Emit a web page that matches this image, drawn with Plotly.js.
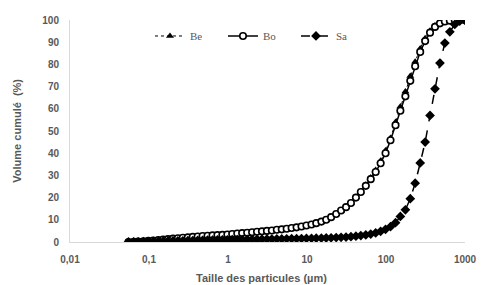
<!DOCTYPE html>
<html>
<head>
<meta charset="utf-8">
<script src="https://cdn.plot.ly/plotly-3.0.1.min.js"></script>
<style>html,body{margin:0;padding:0;background:#fff;}#chart{width:483px;height:285px;}</style>
</head>
<body>
<div id="chart"></div>
<script>
// Particle sizes (µm)
const sizes = [0.055, 0.064, 0.073, 0.085, 0.098, 0.113, 0.131, 0.151, 0.174, 0.201,
  0.232, 0.268, 0.310, 0.358, 0.413, 0.477, 0.551, 0.637, 0.735, 0.849,
  0.981, 1.13, 1.31, 1.51, 1.75, 2.02, 2.33, 2.69, 3.11, 3.59,
  4.15, 4.79, 5.53, 6.39, 7.38, 8.52, 9.84, 11.4, 13.1, 15.2,
  17.5, 20.2, 23.4, 27.0, 31.2, 36.0, 41.6, 48.0, 55.5, 64.1,
  74.0, 85.5, 98.7, 114, 132, 152, 176, 203, 234, 271,
  313, 361, 417, 482, 556, 643, 742, 857, 990];

// Cumulative volume (%)
const be = [0, 0.1, 0.2, 0.3, 0.5, 0.6, 0.8, 1.0, 1.2, 1.4,
  1.6, 1.8, 2.0, 2.2, 2.4, 2.6, 2.7, 2.9, 3.0, 3.1,
  3.3, 3.5, 3.7, 3.9, 4.1, 4.3, 4.5, 4.7, 4.9, 5.1,
  5.4, 5.6, 5.9, 6.2, 6.5, 6.9, 7.3, 7.8, 8.4, 9.1,
  9.9, 11.1, 12.5, 14.1, 15.7, 17.7, 20.2, 22.8, 25.8, 29.0,
  32.4, 36.6, 41.2, 46.8, 54.0, 61.0, 67.8, 74.8, 81.2, 87.2,
  91.8, 95.2, 97.5, 98.9, 99.6, 99.9, 100, 100, 100];

const bo = [0, 0.1, 0.2, 0.35, 0.5, 0.7, 0.9, 1.1, 1.3, 1.5,
  1.7, 1.9, 2.1, 2.3, 2.5, 2.7, 2.8, 3.0, 3.1, 3.2,
  3.4, 3.6, 3.8, 4.0, 4.2, 4.4, 4.6, 4.8, 5.0, 5.2,
  5.5, 5.7, 6.0, 6.3, 6.6, 7.0, 7.4, 7.9, 8.5, 9.2,
  10.0, 11.2, 12.6, 14.2, 15.7, 17.6, 20.0, 22.5, 25.3, 28.3,
  31.5, 35.5, 40.0, 45.8, 52.6, 59.1, 65.6, 72.6, 79.2, 85.6,
  90.5, 94.3, 96.9, 98.5, 99.3, 99.7, 99.9, 100, 100];

const sa = [0, 0.05, 0.1, 0.15, 0.2, 0.25, 0.3, 0.35, 0.4, 0.45,
  0.5, 0.55, 0.6, 0.65, 0.7, 0.75, 0.8, 0.85, 0.9, 0.95,
  1.0, 1.05, 1.1, 1.1, 1.15, 1.2, 1.2, 1.25, 1.3, 1.3,
  1.35, 1.4, 1.45, 1.5, 1.5, 1.55, 1.6, 1.65, 1.7, 1.75,
  1.8, 1.9, 2.0, 2.1, 2.2, 2.4, 2.6, 2.9, 3.2, 3.6,
  4.1, 4.8, 5.7, 6.9, 8.7, 11.5, 14.5, 19.5, 26.5, 35.6,
  45, 57, 69, 80.6, 89.6, 94.7, 98, 99.5, 100];

const xTickVals = [0.01, 0.1, 1, 10, 100, 1000];
const xTickText = ['0,01', '0,1', '1', '10', '100', '1000'];
const yTickVals = [0, 10, 20, 30, 40, 50, 60, 70, 80, 90, 100];

const traces = [
  {x: sizes, y: be, name: 'Be', type: 'scatter', mode: 'lines+markers',
   line: {color: '#000', width: 1, dash: 'dot'},
   marker: {symbol: 'triangle-up', size: 7, color: '#000'}},
  {x: sizes, y: bo, name: 'Bo', type: 'scatter', mode: 'lines+markers',
   line: {color: '#000', width: 1.5},
   marker: {symbol: 'circle', size: 6.5, color: '#fff', line: {color: '#000', width: 1.6}}},
  {x: sizes, y: sa, name: 'Sa', type: 'scatter', mode: 'lines+markers',
   line: {color: '#000', width: 1.5, dash: 'dash'},
   marker: {symbol: 'diamond', size: 7.5, color: '#000'}}
];

const tickFont = {family: 'Liberation Sans', size: 10, color: '#595959', weight: 'bold'};

const layout = {
  width: 483, height: 285,
  margin: {l: 70, r: 18, t: 20, b: 43},
  paper_bgcolor: '#fff', plot_bgcolor: '#fff',
  showlegend: true,
  legend: {orientation: 'h', x: 0.2025, y: 0.928, xanchor: 'left', yanchor: 'middle',
    font: {family: 'Liberation Serif', size: 11, color: '#595959'},
    bgcolor: 'rgba(0,0,0,0)', entrywidth: 28, entrywidthmode: 'pixels'},
  xaxis: {type: 'log', range: [-2, 3], tickvals: xTickVals, ticktext: xTickText,
    showgrid: false, zeroline: false, showline: true, linecolor: '#d9d9d9', linewidth: 1,
    ticks: '', ticklabelstandoff: 8, tickfont: tickFont,
    title: {text: ''}},
  yaxis: {range: [0, 100], tickvals: yTickVals, showgrid: false, zeroline: false,
    showline: true, linecolor: '#d9d9d9', linewidth: 1, ticks: '',
    ticklabelstandoff: 8, tickfont: tickFont,
    title: {text: ''}},
  annotations: [
    {text: 'Taille des particules (µm)', xref: 'paper', yref: 'paper', x: 0.485, y: -0.163,
     xanchor: 'center', yanchor: 'middle', showarrow: false,
     font: {family: 'Liberation Sans', size: 11, color: '#595959', weight: 'bold'}},
    {text: 'Volume cumulé  (%)', xref: 'paper', yref: 'paper', x: -0.135, y: 0.5,
     xanchor: 'center', yanchor: 'middle', textangle: -90, showarrow: false,
     font: {family: 'Liberation Sans', size: 11, color: '#595959', weight: 'bold'}}
  ]
};

Plotly.newPlot('chart', traces, layout, {staticPlot: true, displayModeBar: false});
</script>
</body>
</html>
